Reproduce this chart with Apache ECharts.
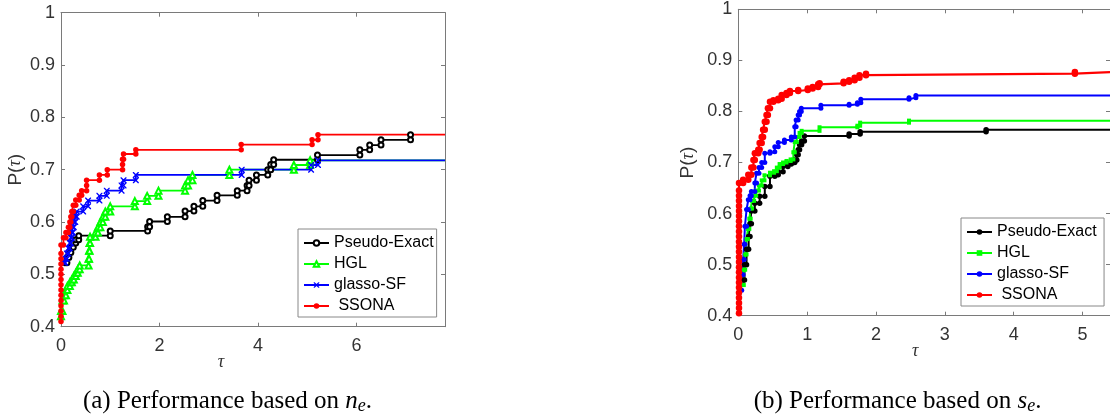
<!DOCTYPE html>
<html><head><meta charset="utf-8">
<script src="https://cdn.jsdelivr.net/npm/echarts@6/dist/echarts.min.js"></script>
<style>html,body{margin:0;padding:0;background:#fff}#c{width:1110px;height:416px}</style>
</head><body><div id="c"></div>
<script>
// ---------------- data ----------------
const namesA = ['Pseudo-Exact', 'HGL', 'glasso-SF', ' SSONA'];
const namesB = ['Pseudo-Exact ', 'HGL ', 'glasso-SF ', ' SSONA '];

// (a) performance based on n_e
const neTauEnd = 7.8;
const neTauBlack = [0.08,0.12,0.16,0.2,0.25,0.3,0.36,1.0,1.76,1.8,2.16,2.52,2.7,2.88,3.17,3.58,3.78,3.82,3.97,4.2,4.26,4.32,5.21,6.07,6.27,6.5,7.1];
const nePBlack   = [0.522,0.532,0.542,0.552,0.56,0.566,0.574,0.583,0.591,0.601,0.61,0.621,0.63,0.641,0.651,0.66,0.67,0.68,0.69,0.70,0.71,0.719,0.728,0.738,0.747,0.757,0.767];
const neTauGreen = [0.0,0.0,0.03,0.06,0.1,0.13,0.18,0.22,0.26,0.3,0.34,0.38,0.56,0.57,0.58,0.59,0.7,0.75,0.8,0.85,0.9,1.0,1.5,1.75,1.98,2.52,2.58,2.67,3.42,4.73,5.06];
const nePGreen   = [0.42,0.43,0.45,0.46,0.47,0.478,0.485,0.49,0.497,0.503,0.51,0.517,0.53,0.545,0.56,0.572,0.58,0.59,0.60,0.61,0.62,0.63,0.64,0.65,0.66,0.67,0.68,0.69,0.70,0.709,0.718];
const neTauBlue  = [0.06,0.09,0.12,0.15,0.18,0.2,0.22,0.24,0.26,0.29,0.32,0.45,0.55,0.78,0.93,1.23,1.27,1.52,3.67,5.08,5.22];
const nePBlue    = [0.522,0.53,0.54,0.55,0.56,0.57,0.58,0.59,0.60,0.61,0.62,0.63,0.641,0.65,0.66,0.67,0.68,0.69,0.70,0.709,0.718];
const neTauRed   = [0,0,0,0,0,0,0,0,0,0,0,0,0,0,0,0.05,0.1,0.15,0.18,0.2,0.22,0.25,0.3,0.37,0.42,0.52,0.52,0.78,0.94,1.25,1.25,1.27,1.52,3.66,5.1,5.22];
const nePRed     = [0.41,0.42,0.43,0.44,0.45,0.46,0.47,0.48,0.49,0.50,0.51,0.52,0.53,0.54,0.556,0.57,0.58,0.59,0.60,0.61,0.62,0.632,0.642,0.651,0.66,0.67,0.68,0.69,0.70,0.71,0.72,0.73,0.738,0.748,0.757,0.767];

// (b) performance based on s_e
const seTauEnd = 5.4;
const seTauBlack = [0.06,0.09,0.12,0.15,0.17,0.19,0.24,0.31,0.385,0.46,0.53,0.58,0.65,0.72,0.77,0.82,0.85,0.87,0.89,0.92,0.96,1.61,1.77,3.6];
const sePBlack   = [0.47,0.5,0.53,0.555,0.58,0.605,0.62,0.634,0.653,0.673,0.676,0.682,0.692,0.697,0.70,0.705,0.715,0.725,0.735,0.742,0.752,0.756,0.76,0.764];
const seTauGreen = [0.05,0.08,0.1,0.12,0.14,0.16,0.18,0.2,0.23,0.26,0.3,0.34,0.38,0.46,0.52,0.56,0.6,0.65,0.7,0.76,0.8,0.82,0.85,0.89,0.92,1.18,1.73,1.77,2.48];
const sePGreen   = [0.46,0.49,0.52,0.55,0.57,0.59,0.61,0.625,0.635,0.645,0.655,0.665,0.675,0.68,0.683,0.69,0.697,0.70,0.703,0.706,0.72,0.74,0.75,0.758,0.762,0.769,0.772,0.778,0.782];
const seTauBlue  = [0.03,0.05,0.07,0.085,0.096,0.12,0.145,0.17,0.19,0.24,0.265,0.3,0.34,0.385,0.46,0.53,0.58,0.67,0.77,0.82,0.84,0.87,0.89,0.915,1.2,1.61,1.73,1.78,2.48,2.58];
const sePBlue    = [0.45,0.48,0.51,0.54,0.575,0.608,0.627,0.635,0.643,0.66,0.679,0.69,0.70,0.718,0.721,0.731,0.739,0.744,0.75,0.77,0.783,0.793,0.80,0.806,0.812,0.814,0.817,0.824,0.827,0.831];
const seTauRed   = [0.01,0.01,0.01,0.01,0.01,0.01,0.01,0.01,0.01,0.01,0.01,0.01,0.01,0.01,0.01,0.01,0.01,0.01,0.01,0.01,0.01,0.01,0.01,0.01,0.01,0.01,0.07,0.145,0.19,0.22,0.24,0.29,0.31,0.34,0.36,0.385,0.41,0.43,0.46,0.51,0.58,0.63,0.70,0.75,0.87,1.01,1.08,1.16,1.18,1.53,1.61,1.69,1.76,1.855,4.89];
const sePRed     = [0.405,0.415,0.425,0.435,0.445,0.455,0.465,0.475,0.485,0.495,0.505,0.515,0.525,0.535,0.545,0.555,0.565,0.575,0.585,0.595,0.605,0.615,0.625,0.635,0.645,0.66,0.666,0.676,0.69,0.705,0.718,0.725,0.738,0.75,0.764,0.78,0.793,0.806,0.819,0.822,0.825,0.832,0.836,0.84,0.842,0.845,0.848,0.853,0.855,0.858,0.861,0.866,0.871,0.874,0.877];

const xTicksA = {min: 0, max: neTauEnd, interval: 2};
const xTicksB = {min: 0, max: seTauEnd, interval: 1};
const yTicks  = {min: 0.4, max: 1, interval: 0.1};

// ---------------- helpers ----------------
function stairs(tau, p, tauEnd) {
  const out = [];
  for (let i = 0; i < tau.length; i++) {
    if (i > 0 && tau[i] !== tau[i - 1]) out.push([tau[i], p[i - 1]]);
    out.push([tau[i], p[i]]);
  }
  if (tauEnd != null) out.push({value: [tauEnd, p[p.length - 1]], symbol: 'none'});
  return out;
}
const FONT = '"Liberation Sans", Arial, Helvetica, sans-serif';
const SERIF = '"Liberation Serif", "Times New Roman", serif';
const AX = '#7a7a7a', TXT = '#333';
const crossPath = 'path://M0,0L1.6,0L5,3.4L8.4,0L10,0L10,1.6L6.6,5L10,8.4L10,10L8.4,10L5,6.6L1.6,10L0,10L0,8.4L3.4,5L0,1.6Z';

function xAx(grid, t, pos, show, gap, shift) {
  return {
    type: 'value', gridIndex: grid, position: pos, min: t.min, max: t.max, interval: t.interval,
    axisLine: {show: true, onZero: false, lineStyle: {color: AX, width: 1}},
    axisTick: {show: true, inside: true, length: 4, lineStyle: {color: AX}},
    axisLabel: {show: show, margin: 10.5, fontSize: 18, color: TXT, fontFamily: FONT, showMaxLabel: false},
    splitLine: {show: false},
    name: show ? 'τ' : '', nameLocation: 'middle', nameGap: gap, nameMoveOverlap: false,
    nameTextStyle: {fontSize: 18, fontStyle: 'italic', fontFamily: SERIF, color: TXT,
      padding: [0, shift || 0, 0, 0]}
  };
}
function yAx(grid, pos, show, gap) {
  return {
    type: 'value', gridIndex: grid, position: pos, min: yTicks.min, max: yTicks.max, interval: yTicks.interval,
    axisLine: {show: true, onZero: false, lineStyle: {color: AX, width: 1}},
    axisTick: {show: true, inside: true, length: 4, lineStyle: {color: AX}},
    axisLabel: {show: show, margin: 6, fontSize: 18, color: TXT, fontFamily: FONT},
    splitLine: {show: false},
    name: show ? 'P({t|τ})' : '', nameLocation: 'middle', nameGap: gap,
    nameTextStyle: {fontSize: 19, color: TXT, fontFamily: FONT,
      rich: {t: {fontSize: 18, fontStyle: 'italic', fontFamily: SERIF, color: TXT}}}
  };
}
function ser(name, xi, data, color, symbol, size, lw, empty) {
  return {
    name: name, type: 'line', xAxisIndex: xi, yAxisIndex: xi, data: data,
    symbol: symbol, symbolSize: size, clip: false, animation: false,
    lineStyle: {color: color, width: lw},
    itemStyle: {color: color, borderColor: color, borderWidth: empty ? 1.3 : 0},
    emphasis: {disabled: true}
  };
}
function legend(names, left, top) {
  return {
    data: names, orient: 'vertical', left: left, top: top, padding: [6, 3, 3, 5],
    itemWidth: 25, itemHeight: 7, itemGap: 5, selectedMode: false,
    textStyle: {fontSize: 16, color: '#000', fontFamily: FONT},
    borderColor: '#888', borderWidth: 1, backgroundColor: '#fff', borderRadius: 0
  };
}
function caption(letter, v, x, y) {
  return {type: 'text', x: x, y: y, style: {
    text: '(' + letter + ') Performance based on {i|' + v + '}{s|e}.', align: 'center', verticalAlign: 'middle',
    fontSize: 25, fontFamily: SERIF, fill: '#000',
    rich: {i: {fontSize: 25, fontStyle: 'italic', fontFamily: SERIF, fill: '#000'},
           s: {fontSize: 18, fontStyle: 'italic', fontFamily: SERIF, fill: '#000', padding: [10, 0, 0, 0]}}}};
}

const chart = echarts.init(document.getElementById('c'), null, {renderer: 'canvas'});
chart.setOption({
  animation: false,
  backgroundColor: '#fff',
  grid: [
    {left: 61, top: 12.7, width: 384, height: 314},
    {left: 738.3, top: 9.3, width: 373.7, height: 306.4}
  ],
  xAxis: [xAx(0, xTicksA, 'bottom', true, 27, 64), xAx(0, xTicksA, 'top', false, 0),
          xAx(1, xTicksB, 'bottom', true, 27, 18), xAx(1, xTicksB, 'top', false, 0)],
  yAxis: [yAx(0, 'left', true, 36), yAx(0, 'right', false, 0),
          yAx(1, 'left', true, 41), yAx(1, 'right', false, 0)],
  legend: [legend(namesA, 298, 229), legend(namesB, 961, 218)],
  series: [
    ser(namesA[0], 0, stairs(neTauBlack, nePBlack, null), '#000000', 'emptyCircle', 5, 1.8, true),
    ser(namesA[1], 0, stairs(neTauGreen, nePGreen, neTauEnd), '#00ff00', 'emptyTriangle', 6, 1.8, true),
    ser(namesA[2], 0, stairs(neTauBlue, nePBlue, neTauEnd), '#0000ff', crossPath, 6, 1.8, false),
    ser(namesA[3], 0, stairs(neTauRed, nePRed, neTauEnd), '#ff0000', 'circle', 5.5, 1.8, false),
    ser(namesB[0], 2, stairs(seTauBlack, sePBlack, seTauEnd), '#000000', 'circle', 5.5, 2, false),
    ser(namesB[1], 2, stairs(seTauGreen, sePGreen, seTauEnd), '#00ff00', 'rect', 4, 2, false),
    ser(namesB[2], 2, stairs(seTauBlue, sePBlue, seTauEnd), '#0000ff', 'circle', 5, 2, false),
    ser(namesB[3], 2, stairs(seTauRed, sePRed, seTauEnd), '#ff0000', 'circle', 6.5, 2.2, false)
  ],
  graphic: [caption('a', 'n', 227.5, 401), caption('b', 's', 897.5, 401)]
});
</script></body></html>
